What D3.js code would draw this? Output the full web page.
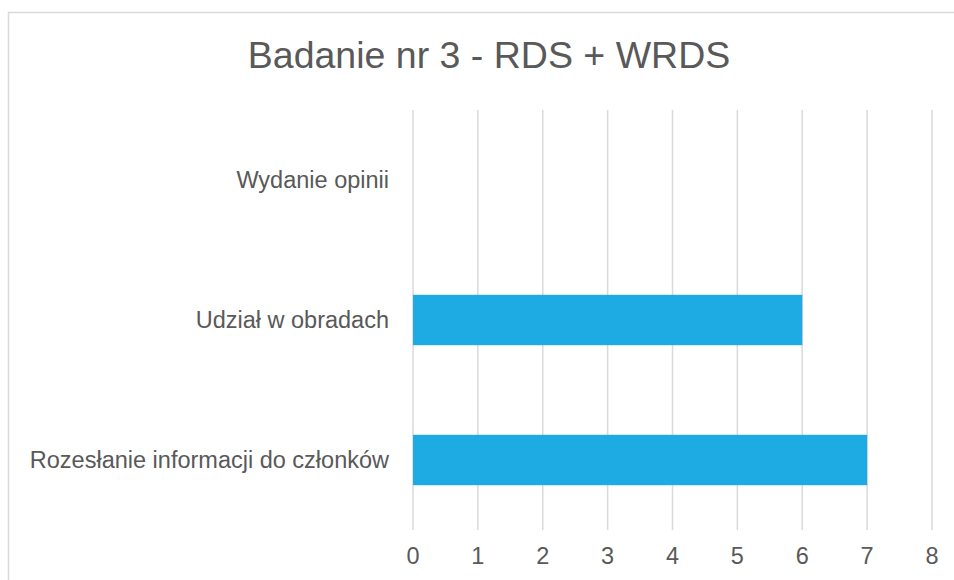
<!DOCTYPE html>
<html><head><meta charset="utf-8">
<script src="https://cdn.jsdelivr.net/npm/d3@7"></script>
<style>body{margin:0;background:#fff;} svg{display:block;}</style>
</head><body>
<svg id="c" width="954" height="580"></svg>
<script>
const title = "Badanie nr 3 - RDS + WRDS";
const categories = ["Wydanie opinii", "Udział w obradach", "Rozesłanie informacji do członków"];
const values = [0, 6, 7];
const ticks = [0,1,2,3,4,5,6,7,8];

const svg = d3.select("#c");
const font = "'Liberation Sans', Arial, sans-serif";
svg.append("rect").attr("x",8.5).attr("y",12.5).attr("width",980).attr("height",620)
  .attr("fill","#fff").attr("stroke","#d9d9d9").attr("stroke-width",1.5);

const x = d3.scaleLinear().domain([0,8]).range([413,932]);
const y = d3.scaleBand().domain(categories).range([110,530]).paddingInner(0.64).paddingOuter(0.32);

svg.append("g").selectAll("line").data(ticks).join("line")
  .attr("x1",d=>x(d)).attr("x2",d=>x(d)).attr("y1",110).attr("y2",530)
  .attr("stroke","#d9d9d9").attr("stroke-width",1.5);

svg.append("g").selectAll("rect").data(values).join("rect")
  .attr("x",x(0)).attr("y",(d,i)=>y(categories[i]))
  .attr("width",d=>x(d)-x(0)).attr("height",y.bandwidth())
  .attr("fill","#1eabe3");

svg.append("g").selectAll("text").data(ticks).join("text")
  .attr("x",d=>x(d)).attr("y",564).attr("text-anchor","middle")
  .attr("font-family",font).attr("font-size",23.5).attr("fill","#595959").text(d=>d);

svg.append("g").selectAll("text").data(categories).join("text")
  .attr("x",389).attr("y",d=>y(d)+y.bandwidth()/2+8).attr("text-anchor","end")
  .attr("font-family",font).attr("font-size",23.5).attr("fill","#595959").text(d=>d);

svg.append("text").attr("x",489).attr("y",68).attr("text-anchor","middle")
  .attr("font-family",font).attr("font-size",37.5).attr("fill","#595959").text(title);
</script>
</body></html>
